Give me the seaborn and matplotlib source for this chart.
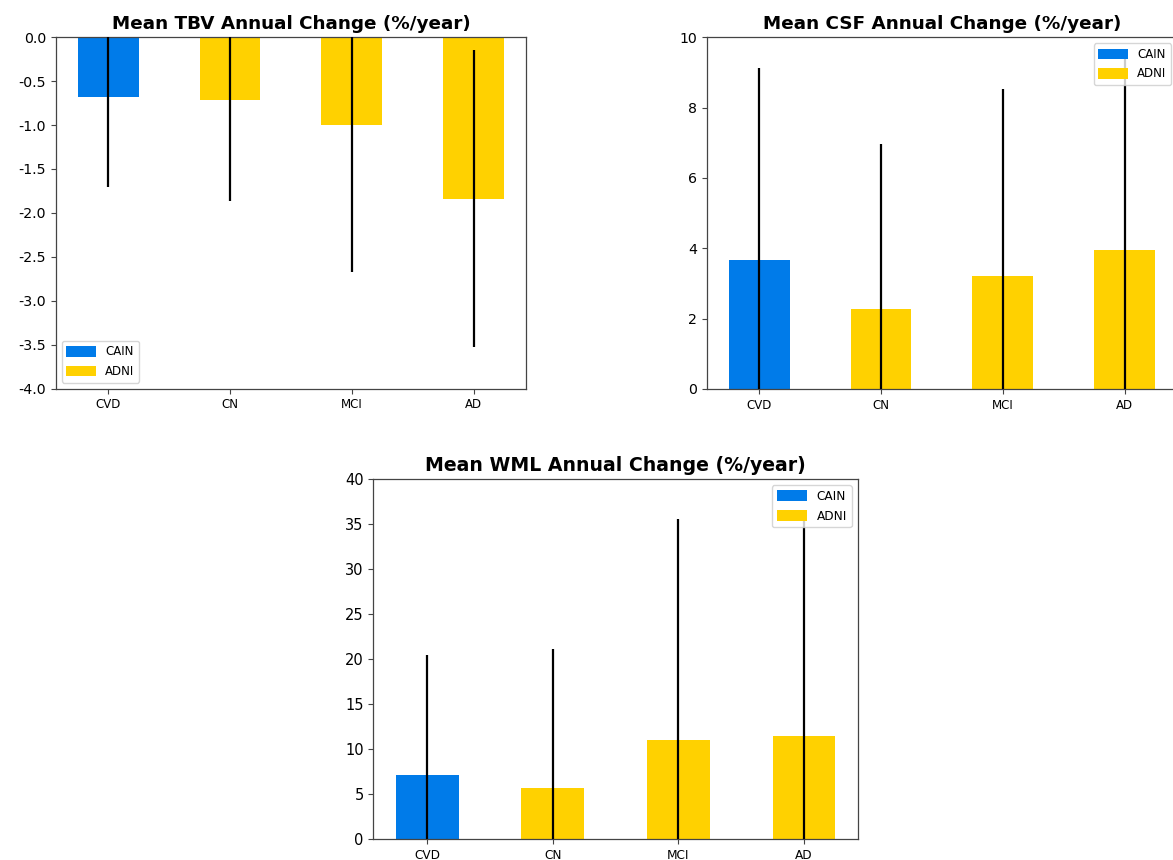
import matplotlib
matplotlib.use("Agg")
import matplotlib.pyplot as plt
import seaborn as sns
import pandas as pd

# Diagnostic groups and the cohort each group comes from
groups = ["CVD", "CN", "MCI", "AD"]
cohorts = ["CAIN", "ADNI", "ADNI", "ADNI"]

# Mean annual change (%/year) and standard deviation per group
tbv_mean = [-0.68, -0.71, -1.00, -1.84]
tbv_sd = [1.02, 1.15, 1.67, 1.69]

csf_mean = [3.66, 2.27, 3.22, 3.96]
csf_sd = [5.48, 4.70, 5.32, 5.48]

wml_mean = [7.1, 5.7, 11.0, 11.5]
wml_sd = [13.4, 15.4, 24.6, 25.0]

titles = ["Mean TBV Annual Change (%/year)",
          "Mean CSF Annual Change (%/year)",
          "Mean WML Annual Change (%/year)"]

palette = {"CAIN": "#007BE9", "ADNI": "#FFD100"}

W, H = 1173, 860
fig = plt.figure(figsize=(W / 100, H / 100), dpi=100)


def px_axes(left, top, right, bottom):
    return fig.add_axes([left / W, 1 - bottom / H, (right - left) / W, (bottom - top) / H])


ax_tbv = px_axes(55.7, 37.3, 526.2, 388.5)
ax_csf = px_axes(706.7, 37.3, 1177.2, 389.0)
ax_wml = px_axes(373.3, 479.0, 858.0, 839.3)

# (axes, means, sds, title, ylim, yticks, legend location, tick format, font scale)
panels = [
    (ax_tbv, tbv_mean, tbv_sd, titles[0], (-4.0, 0.0), [-4.0 + 0.5 * i for i in range(9)],
     "lower left", "{:.1f}", 1.0),
    (ax_csf, csf_mean, csf_sd, titles[1], (0, 10), list(range(0, 11, 2)),
     "upper right", "{:d}", 1.0),
    (ax_wml, wml_mean, wml_sd, titles[2], (0, 40), list(range(0, 41, 5)),
     "upper right", "{:d}", 1.03),
]

for ax, means, sds, title, ylim, yticks, legend_loc, fmt, k in panels:
    df = pd.DataFrame({"group": groups, "cohort": cohorts, "mean": means, "sd": sds})
    sns.barplot(data=df, x="group", y="mean", hue="cohort", palette=palette,
                hue_order=["CAIN", "ADNI"], order=groups, dodge=False,
                width=0.5, saturation=1, errorbar=None, linewidth=0, ax=ax)
    ax.errorbar(x=list(range(len(groups))), y=df["mean"], yerr=df["sd"],
                fmt="none", ecolor="black", elinewidth=1.6, capsize=0, zorder=3)
    ax.set_xlim(-0.43, len(groups) - 1 + 0.43)
    ax.set_ylim(*ylim)
    ax.set_yticks(yticks)
    ax.set_yticklabels([fmt.format(t) if fmt == "{:.1f}" else fmt.format(int(t)) for t in yticks],
                       fontsize=10.2 * k)
    ax.set_xticks(range(len(groups)))
    ax.set_xticklabels(groups, fontsize=8.5 * k)
    ax.set_xlabel("")
    ax.set_ylabel("")
    ax.set_title(title, fontsize=13.2 * k, fontweight="bold", pad=6)
    for sp in ax.spines.values():
        sp.set_color("#444444")
        sp.set_linewidth(0.9)
        sp.set_visible(True)
    ax.tick_params(axis="both", direction="out", length=3.5, width=0.8, color="#444444")
    sns.move_legend(ax, legend_loc, title=None, fontsize=8.5 * k, frameon=True,
                    handlelength=2.5, handleheight=1.0, labelspacing=0.55)

fig.savefig("out.png", dpi=100)
